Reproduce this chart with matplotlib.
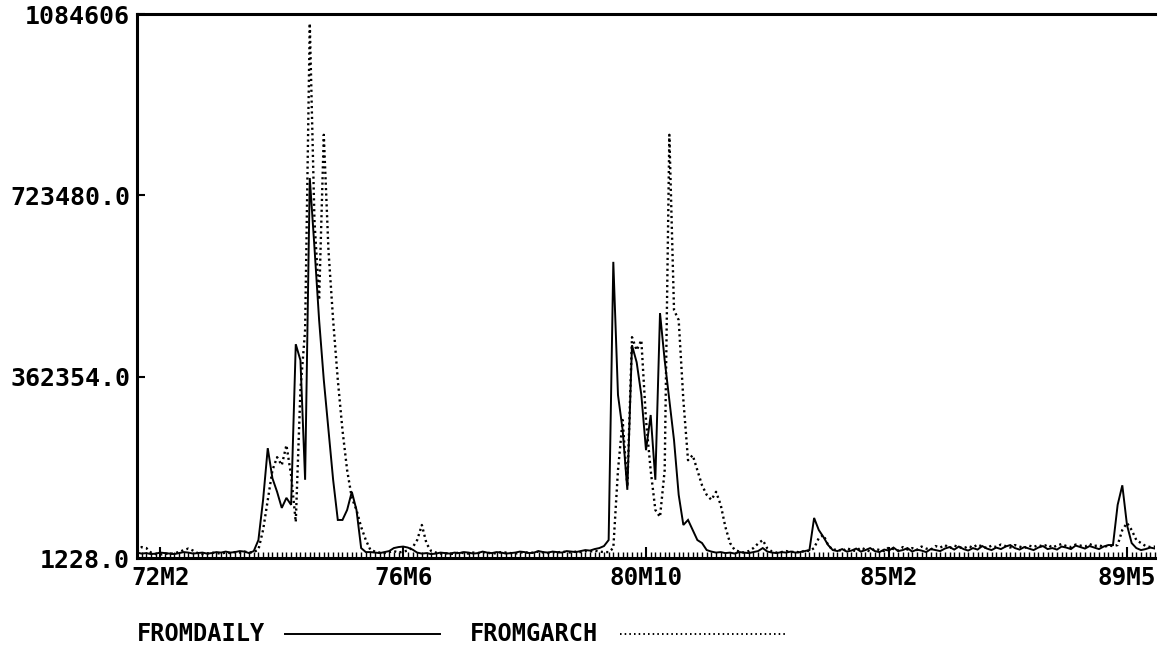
import numpy as np
import matplotlib
matplotlib.use("Agg")
import matplotlib.pyplot as plt
from matplotlib.lines import Line2D

# monthly series, values in thousands, first month = 1971M9
start_year, start_month = 1971, 9

daily_a = [12, 10, 11, 9, 10, 12, 11, 10, 9, 11, 13, 12, 10, 11, 12, 10, 11, 13, 12, 14, 12, 13, 15, 14]
daily_b = [11, 15, 37, 117, 220, 160, 133, 101, 121, 107, 427, 395, 157, 758, 620,
           475, 356, 256, 157, 77, 77, 97, 133, 97, 21, 13, 13]
daily_c = [12, 11, 13, 15, 21, 23, 24, 22, 18, 12,
           10, 11, 9, 10, 12, 11, 10, 12, 11, 13,
           12, 10, 11, 14, 12, 11, 13, 12, 10, 11,
           12, 14, 13, 11, 12, 15, 13, 12, 14, 13,
           12, 15, 14, 13, 15, 17, 16, 19, 21]
daily_d = [25, 37, 591, 326, 256, 137, 425, 391, 326, 216, 286, 157, 489, 395, 316,
           236, 127, 67, 77, 57, 37, 31, 17]
daily_e = [14, 12, 13, 11, 12, 10, 13, 12, 11, 13,
           15, 21, 14, 12, 11, 13, 12, 14, 12, 13,
           15, 17, 81, 57, 43, 27, 17, 15, 19, 14,
           16, 20, 14, 17, 21, 15, 13, 18, 16, 22,
           15, 17, 21, 14, 18, 16, 13, 19, 17, 15,
           20, 23, 18, 24, 19, 16, 21, 18, 25, 20,
           17, 22, 19, 24, 27, 21, 18, 23, 20, 17,
           22, 25, 19, 21, 18, 24, 22, 19, 26, 23,
           20, 25, 22, 19, 24, 27, 27, 107, 146, 67,
           31, 21, 17, 19, 22, 20]

garch_a = [14, 23, 21, 12, 9, 8, 10, 9, 11, 13, 17, 20, 16, 11, 9, 10, 12, 11, 10, 12, 11, 13, 12, 14]
garch_b = [12, 13, 18, 57, 117, 176, 202, 186, 226, 166, 73, 336, 455, 1066, 674,
           515, 844, 614, 475, 356, 256, 176, 121, 97, 63, 37, 17]
garch_c = [14, 12, 11, 13, 15, 12, 14, 16, 22, 37,
           67, 30, 15, 12, 10, 11, 9, 10, 12, 11,
           10, 12, 11, 13, 12, 10, 11, 13, 12, 11,
           10, 12, 13, 11, 12, 14, 12, 11, 13, 12,
           14, 13, 12, 14, 13, 15, 14, 16, 14]
garch_d = [13, 13, 21, 176, 276, 143, 441, 415, 435, 276,
           176, 97, 83, 176, 844, 495, 475, 316, 196, 206,
           176, 146, 127, 117, 133, 107, 63, 31, 17]
garch_e = [14, 12, 15, 21, 30, 37, 20, 14, 12, 13,
           15, 13, 14, 12, 16, 15, 21, 41, 47, 27,
           17, 19, 14, 21, 17, 15, 22, 18, 14, 20,
           17, 15, 22, 19, 16, 23, 18, 21, 17, 24,
           20, 18, 25, 22, 27, 21, 26, 23, 20, 25,
           22, 28, 24, 21, 26, 23, 28, 25, 22, 27,
           24, 21, 26, 23, 27, 24, 28, 22, 26, 29,
           25, 23, 28, 26, 24, 29, 25, 27, 23, 26,
           25, 27, 57, 71, 57, 37, 31, 25, 23, 24]

fromdaily = np.array(daily_a + daily_b + daily_c + daily_d + daily_e) * 1000.0
fromgarch = np.array(garch_a + garch_b + garch_c + garch_d + garch_e) * 1000.0

xtick_labels = ["72M2", "76M6", "80M10", "85M2", "89M5"]
ytick_vals = [1228.0, 362354.0, 723480.0, 1084606.0]
ytick_labels = ["1228.0", "362354.0", "723480.0", "1084606"]


def month_index(lab):
    yy, mm = lab.split("M")
    return (1900 + int(yy) - start_year) * 12 + int(mm) - start_month


W, H = 1158, 655
fig = plt.figure(figsize=(W / 100, H / 100), dpi=100)
ax = fig.add_axes([137 / W, 1 - 558 / H, 1018 / W, 544 / H])

x = np.arange(len(fromdaily))
ax.plot(x, fromdaily, color="black", lw=1.4, solid_joinstyle="miter")
ax.plot(x, fromgarch, color="black", lw=1.7, linestyle=(0, (0.9, 1.4)))

ax.set_xlim(0, len(x) - 1)
ax.set_ylim(ytick_vals[0], ytick_vals[-1])

fnt = dict(family="DejaVu Sans Mono", weight="bold")

ax.set_xticks([month_index(l) for l in xtick_labels])
ax.set_xticklabels(xtick_labels, fontsize=17.5, **fnt)
ax.set_xticks(x, minor=True)
ax.tick_params(axis="x", which="major", direction="in", length=8, width=1.5, pad=6)
ax.tick_params(axis="x", which="minor", direction="in", length=4, width=1.0)

ax.set_yticks(ytick_vals)
ax.set_yticklabels(ytick_labels, fontsize=18, **fnt)
ax.tick_params(axis="y", direction="in", length=6, width=1.5, pad=5)

for s in ["left", "top", "bottom"]:
    ax.spines[s].set_linewidth(2.2)
ax.spines["right"].set_visible(False)

# legend row under the plot
ly = 1 - 634 / H
fig.text(137 / W, ly, "FROMDAILY", fontsize=17, va="center", ha="left", **fnt)
fig.add_artist(Line2D([285 / W, 440 / W], [ly, ly], transform=fig.transFigure,
                      color="black", lw=1.4))
fig.text(470 / W, ly, "FROMGARCH", fontsize=17, va="center", ha="left", **fnt)
fig.add_artist(Line2D([620 / W, 785 / W], [ly, ly], transform=fig.transFigure,
                      color="black", lw=1.4, linestyle=(0, (0.8, 1.6))))

fig.savefig("out.png", dpi=100)
